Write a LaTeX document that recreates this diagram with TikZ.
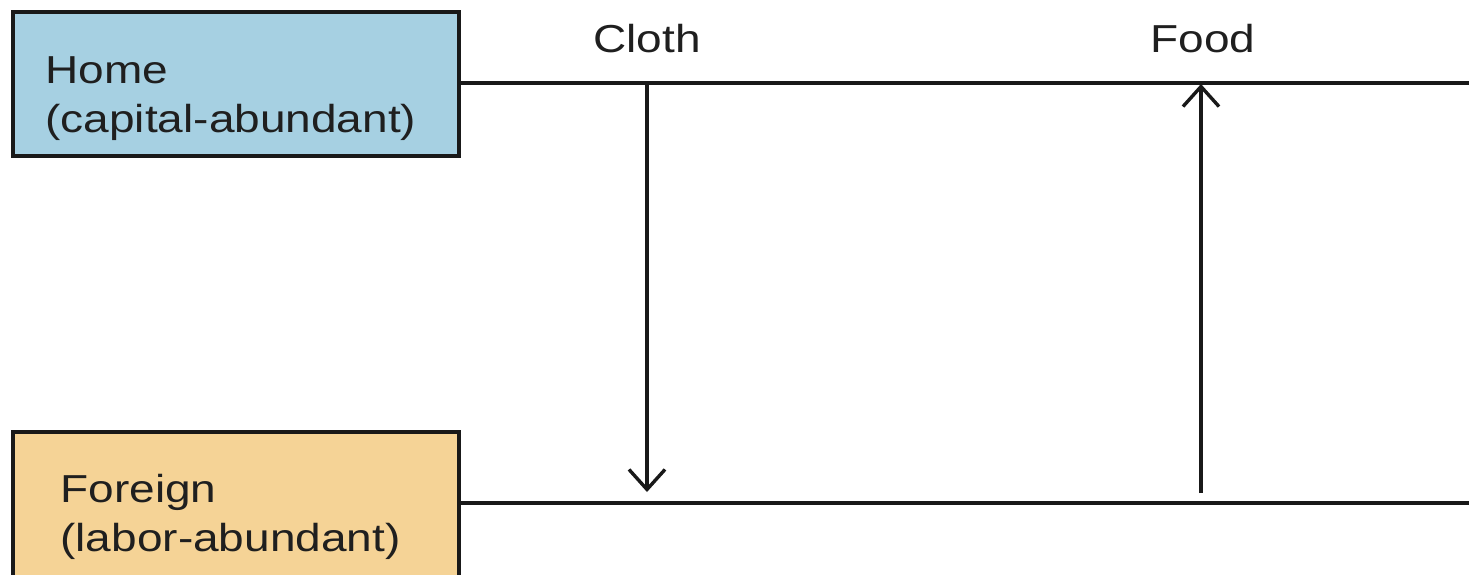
\documentclass[tikz,border=0pt]{standalone}
\usepackage{fontspec}
\setmainfont{Liberation Sans}[FakeStretch=1.18]
\usetikzlibrary{arrows.meta}
\definecolor{homeblue}{RGB}{166,208,226}
\definecolor{foreignorange}{RGB}{245,211,150}
\begin{document}
\begin{tikzpicture}[x=0.5pt,y=-0.5pt,
  country/.style={draw=black!90, line width=2.3pt, outer sep=0pt, inner sep=0pt,
    minimum width=223pt, minimum height=72pt, anchor=north west},
  lbl/.style={font=\fontsize{19.5pt}{24.5pt}\selectfont, inner sep=0pt,
    align=left, anchor=base west, text=black!88},
  good/.style={font=\fontsize{19.5pt}{24.5pt}\selectfont, inner sep=0pt,
    anchor=base, text=black!88},
  rail/.style={line width=1.7pt, black!90},
  trade/.style={line width=1.7pt, black!90,
    -{Straight Barb[length=10pt,width=18pt,line width=1.7pt]}}]
\useasboundingbox (0,0) rectangle (1469,574);
\clip (0,0) rectangle (1469,574);

% country boxes
\node[country, fill=homeblue] (home) at (13,12) {};
\node[country, fill=foreignorange, minimum height=100pt] (foreign) at (13,432) {};
% anchor base west sits on the baseline of the last line
\node[lbl] (homeText) at (45,132) {Home\\(capital-abundant)};
\node[lbl] (foreignText) at (60,551) {Foreign\\(labor-abundant)};

% trade lines of each country
\coordinate (homeEnd) at (1469,83);
\coordinate (foreignEnd) at (1469,503);
\draw[rail] (home.east |- homeEnd) -- (homeEnd);
\draw[rail] (foreign.east |- foreignEnd) -- (foreignEnd);

% goods labels
\node[good] (cloth) at (647,52) {Cloth};
\node[good] (food) at (1203,52) {Food};

% flows of goods
\coordinate (clothFrom) at (647,83);
\coordinate (clothTo) at (647,492);
\coordinate (foodFrom) at (1201,493);
\coordinate (foodTo) at (1201,84);
\draw[trade] (clothFrom) -- (clothTo);
\draw[trade] (foodFrom) -- (foodTo);
\end{tikzpicture}
\end{document}
